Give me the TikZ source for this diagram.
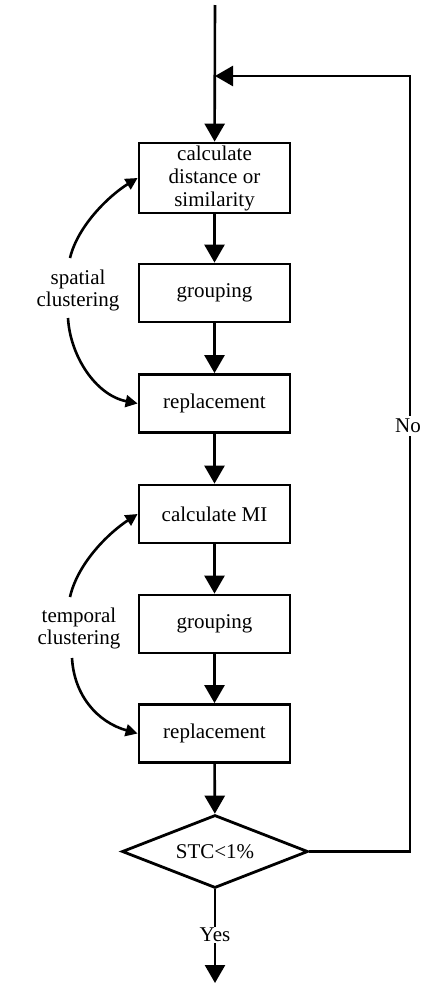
\documentclass[tikz,border=0pt]{standalone}
\usepackage{fontspec}
\setmainfont{Liberation Serif}
\usetikzlibrary{arrows.meta,shapes.geometric}
\begin{document}
\begin{tikzpicture}[x=1pt,y=-1pt,
  every node/.style={font=\fontsize{21}{24}\selectfont},
  procbox/.style={draw,line width=2.8pt,minimum width=151pt,minimum height=58pt,inner sep=0pt,align=center},
  decbox/.style={draw,diamond,aspect=2.5,line width=2.8pt,minimum width=186pt,minimum height=73pt,inner sep=0pt},
  arr/.style={line width=2.6pt,-{Triangle[width=20pt,length=18pt]}},
  ln/.style={line width=2.6pt},
  carr/.style={line width=2.6pt,-{Triangle[width=12pt,length=12pt]}},
  lbl/.style={align=center,inner sep=1pt}]
\useasboundingbox (0,0) rectangle (425,983);
\node[procbox,minimum height=70pt] (b1) at (214.5,178) {calculate\\[-1pt]distance or\\[-1pt]similarity};
\node[procbox] (b2) at (214.5,293) {grouping};
\node[procbox] (b3) at (214.5,403.5) {replacement};
\node[procbox] (b4) at (214.5,514) {calculate MI};
\node[procbox] (b5) at (214.5,624) {grouping};
\node[procbox] (b6) at (214.5,733.5) {replacement};
\node[decbox] (d) at (215,851.5) {STC<1\%};
\node[lbl] (yes) at (215,935) {Yes};
\coordinate (top) at (215,5);
\coordinate (j) at (215,76);
\coordinate (rt) at (410,76);
\coordinate (out) at (215,983);
\draw[arr] (top) -- (b1);
\draw[arr] (b1) -- (b2);
\draw[arr] (b2) -- (b3);
\draw[arr] (b3) -- (b4);
\draw[arr] (b4) -- (b5);
\draw[arr] (b5) -- (b6);
\draw[arr] (b6) -- (d);
\draw[ln] (d.south) -- (yes.north);
\draw[arr] (yes.south) -- (out);
\draw[arr] (d.east) -| (rt) -- (j);
\node[lbl,fill=white,inner sep=3pt] (no) at (408,426) {No};
\node[lbl] (sp) at (78,290) {spatial\\[-2pt]clustering};
\node[lbl] (tp) at (79,628) {temporal\\[-2pt]clustering};
\coordinate (s1) at (70,258);
\coordinate (s2) at (68,318);
\coordinate (t1) at (70,597);
\coordinate (t2) at (72,658);
\draw[carr] (s1) .. controls (78,225) and (110,195) .. (b1.west);
\draw[carr] (s2) .. controls (70,355) and (95,395) .. (b3.west);
\draw[carr] (t1) .. controls (78,562) and (110,532) .. (b4.west);
\draw[carr] (t2) .. controls (74,695) and (97,722) .. (b6.west);
\end{tikzpicture}
\end{document}
